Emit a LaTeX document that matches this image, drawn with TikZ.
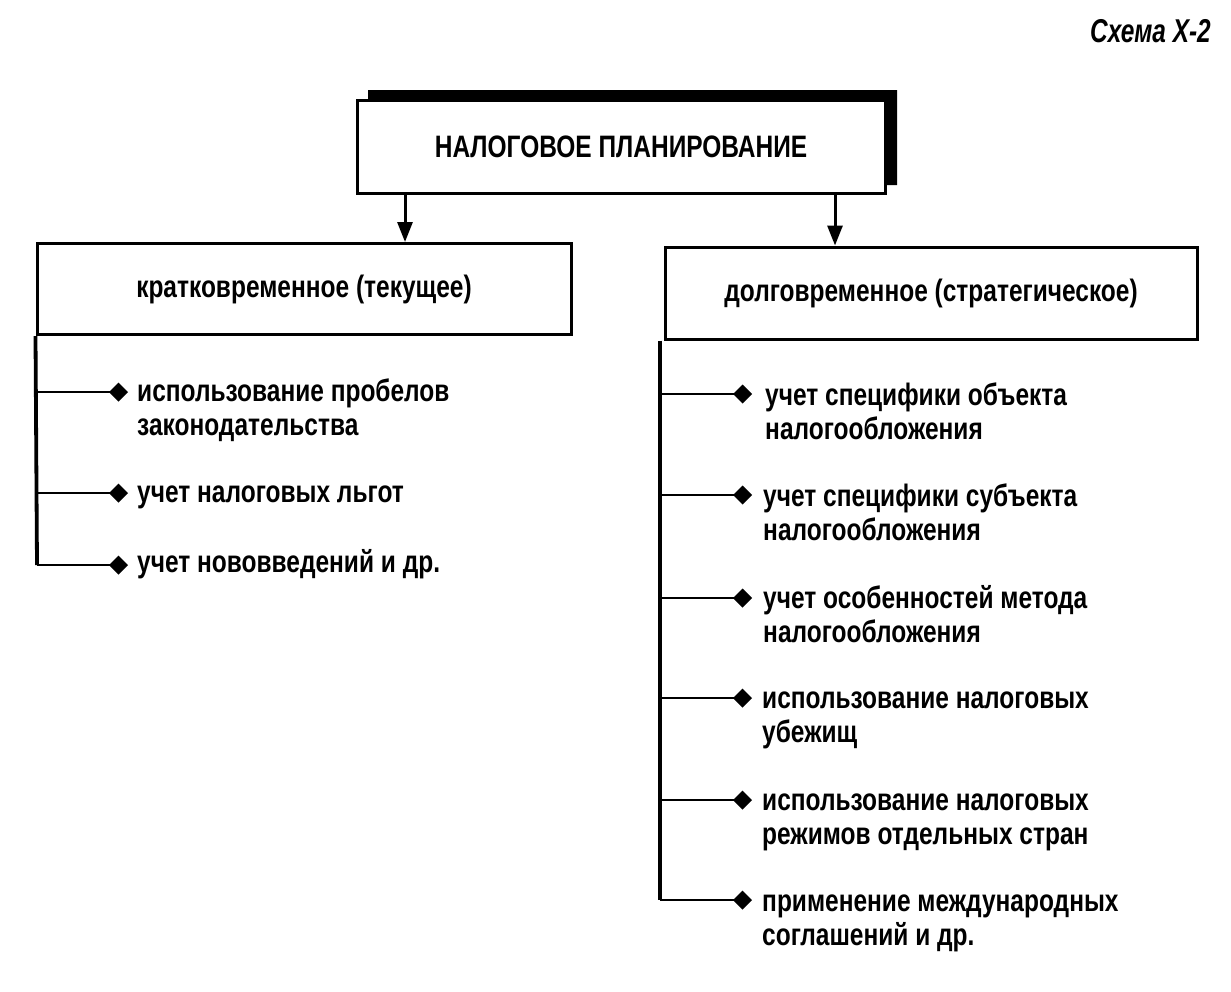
\documentclass[tikz,border=0pt]{standalone}
\usepackage{fontspec}
\setmainfont{Liberation Sans}[FakeStretch=0.79]
\newfontfamily\headfont{Liberation Sans}[FakeStretch=0.74]
\usetikzlibrary{arrows.meta}
\begin{document}
\begin{tikzpicture}[x=1pt,y=-1pt,
  boxline/.style={draw=black,line width=3pt},
  boxtext/.style={font=\fontsize{31}{34}\selectfont\bfseries},
  itemtext/.style={font=\fontsize{31}{34}\selectfont\bfseries,inner sep=0pt,anchor=base west},
  arrowline/.style={line width=3pt,-{Triangle[length=20pt,width=15pt]}},
  branch/.style={line width=2.8pt,-{Diamond[length=19pt,width=19pt]}},
  trunk/.style={line width=3.8pt}]
\useasboundingbox (0,0) rectangle (1231,991);
% header
\node[font=\headfont\itshape\bfseries\fontsize{33}{36}\selectfont,anchor=east,inner sep=0pt] (schema) at (1211,31) {Схема X-2};
% top box with shadow
\fill[black] (368,90) -- (897,90) -- (897,185) -- (885,185) -- (885,100) -- (368,100) -- cycle;
\node[boxline,minimum width=528pt,minimum height=93pt,inner sep=0pt,boxtext] (top) at (621,146.5) {НАЛОГОВОЕ ПЛАНИРОВАНИЕ};
% level two boxes
\node[boxline,minimum width=534pt,minimum height=91pt,inner sep=0pt,boxtext] (left) at (304,289) {кратковременное (текущее)};
\node[boxline,minimum width=532pt,minimum height=92pt,inner sep=0pt,boxtext] (right) at (931,293) {долговременное (стратегическое)};
\draw[arrowline] (top.south -| 405,0) -- (left.north -| 405,0);
\draw[arrowline] (top.south -| 835,0) -- (right.north -| 835,0);
% left list
\coordinate (lb) at (37,565);
\draw[trunk] (left.south west) -- (lb);
\coordinate (ld1) at (128,392);
\coordinate (ld2) at (128,493);
\coordinate (ld3) at (128,565);
\node[itemtext] (li1) at (137,401) {\begin{tabular}[t]{@{}l@{}}использование пробелов\\законодательства\end{tabular}};
\node[itemtext] (li2) at (137,502) {учет налоговых льгот};
\node[itemtext] (li3) at (137,572) {учет нововведений и др.};
\draw[branch] (left.south west |- ld1) -- (ld1);
\draw[branch] (left.south west |- ld2) -- (ld2);
\draw[branch] (lb) -- (ld3);
% right list
\coordinate (rb) at (660,900);
\draw[trunk] (right.south west -| rb) -- (rb);
\coordinate (rd1) at (752,394);
\coordinate (rd2) at (752,495);
\coordinate (rd3) at (752,598);
\coordinate (rd4) at (752,698);
\coordinate (rd5) at (752,800);
\coordinate (rd6) at (752,900);
\node[itemtext] (ri1) at (765,405) {\begin{tabular}[t]{@{}l@{}}учет специфики объекта\\налогообложения\end{tabular}};
\node[itemtext] (ri2) at (763,506) {\begin{tabular}[t]{@{}l@{}}учет специфики субъекта\\налогообложения\end{tabular}};
\node[itemtext] (ri3) at (763,608) {\begin{tabular}[t]{@{}l@{}}учет особенностей метода\\налогообложения\end{tabular}};
\node[itemtext] (ri4) at (762,708) {\begin{tabular}[t]{@{}l@{}}использование налоговых\\убежищ\end{tabular}};
\node[itemtext] (ri5) at (762,810) {\begin{tabular}[t]{@{}l@{}}использование налоговых\\режимов отдельных стран\end{tabular}};
\node[itemtext] (ri6) at (762,911) {\begin{tabular}[t]{@{}l@{}}применение международных\\соглашений и др.\end{tabular}};
\draw[branch] (rb |- rd1) -- (rd1);
\draw[branch] (rb |- rd2) -- (rd2);
\draw[branch] (rb |- rd3) -- (rd3);
\draw[branch] (rb |- rd4) -- (rd4);
\draw[branch] (rb |- rd5) -- (rd5);
\draw[branch] (rb) -- (rd6);
\end{tikzpicture}
\end{document}
